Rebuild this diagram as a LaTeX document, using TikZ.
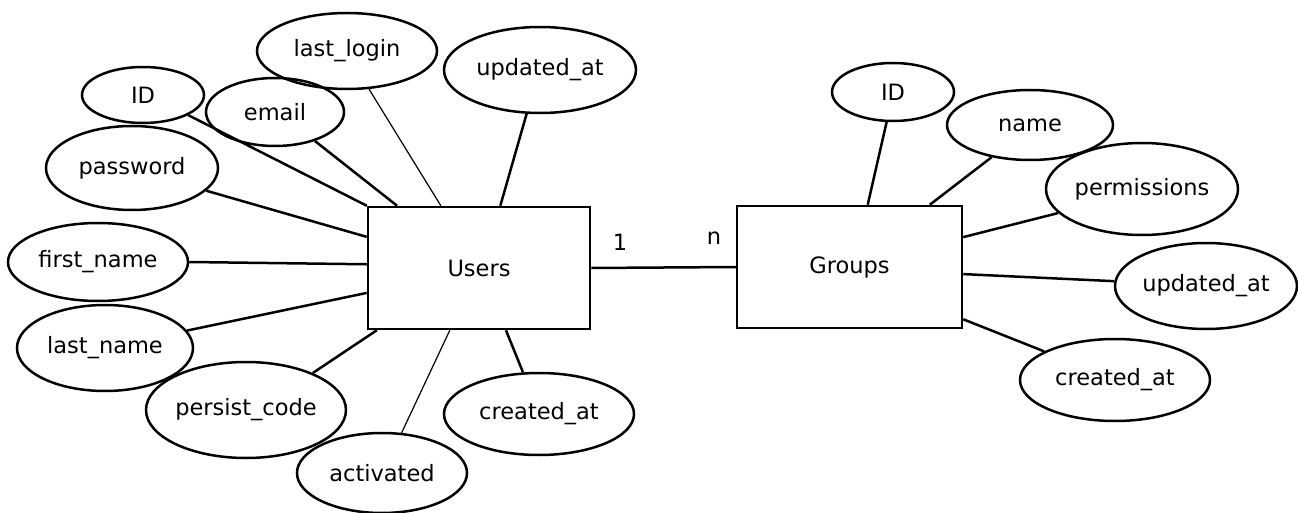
\documentclass[tikz,border=0pt]{standalone}
\usepackage{fontspec}
\setmainfont{DejaVu Sans}
\usetikzlibrary{shapes.geometric,calc}
\begin{document}
\begin{tikzpicture}[x=1pt,y=-1pt,
  attr/.style={draw,ellipse,line width=2.5pt,inner sep=0pt,font=\fontsize{22.5}{27}\selectfont},
  ent/.style={draw,rectangle,line width=2.5pt,inner sep=0pt,font=\fontsize{22.5}{27}\selectfont},
  lnk/.style={line width=2.5pt},
  thin lnk/.style={line width=1.2pt},
  card/.style={font=\fontsize{22.5}{27}\selectfont}]
\useasboundingbox (0,0) rectangle (1298,513);
% entities
\node[ent,minimum width=222pt,minimum height=122pt] (users) at (479,268) {Users};
\node[ent,minimum width=225pt,minimum height=122pt] (groups) at (849.5,267) {Groups};
% Users attributes
\node[attr,minimum width=122pt,minimum height=56pt] (uid) at (143,95) {ID};
\node[attr,minimum width=138pt,minimum height=68pt] (uemail) at (275,112) {email};
\node[attr,minimum width=180pt,minimum height=76pt] (ulogin) at (347,51) {last\_login};
\node[attr,minimum width=192pt,minimum height=86pt] (uupd) at (540,70) {updated\_at};
\node[attr,minimum width=172pt,minimum height=84pt] (upass) at (132,168) {password};
\node[attr,minimum width=180pt,minimum height=78pt] (ufirst) at (98,262) {first\_name};
\node[attr,minimum width=176pt,minimum height=86pt] (ulast) at (105,348) {last\_name};
\node[attr,minimum width=198pt,minimum height=96pt] (upersist) at (246,410) {persist\_code};
\node[attr,minimum width=170pt,minimum height=80pt] (uact) at (382,473) {activated};
\node[attr,minimum width=190pt,minimum height=82pt] (ucre) at (539,414) {created\_at};
% Groups attributes
\node[attr,minimum width=122pt,minimum height=58pt] (gid) at (893,92) {ID};
\node[attr,minimum width=166pt,minimum height=70pt] (gname) at (1030,125) {name};
\node[attr,minimum width=192pt,minimum height=92pt] (gperm) at (1142,189) {permissions};
\node[attr,minimum width=182pt,minimum height=86pt] (gupd) at (1206,286) {updated\_at};
\node[attr,minimum width=190pt,minimum height=82pt] (gcre) at (1115,380) {created\_at};
% Users connectors
\draw[lnk] (uid.-24) -- (users.north west);
\draw[lnk] (uemail.-36) -- ($(users.north west)!0.135!(users.north east)$);
\draw[thin lnk] (ulogin.-60) -- ($(users.north west)!0.33!(users.north east)$);
\draw[lnk] (uupd.-107) -- ($(users.north west)!0.595!(users.north east)$);
\draw[lnk] (upass.-17) -- ($(users.north west)!0.25!(users.south west)$);
\draw[lnk] (ufirst.0) -- ($(users.north west)!0.47!(users.south west)$);
\draw[lnk] (ulast.12) -- ($(users.north west)!0.70!(users.south west)$);
\draw[lnk] (upersist.29) -- ($(users.south west)!0.045!(users.south east)$);
\draw[thin lnk] (uact.64) -- ($(users.south west)!0.37!(users.south east)$);
\draw[lnk] (ucre.111) -- ($(users.south west)!0.62!(users.south east)$);
% Groups connectors
\draw[lnk] (gid.-102) -- ($(groups.north west)!0.58!(groups.north east)$);
\draw[lnk] (gname.-140) -- ($(groups.north west)!0.853!(groups.north east)$);
\draw[lnk] (gperm.-164) -- ($(groups.north east)!0.26!(groups.south east)$);
\draw[lnk] (gupd.177) -- ($(groups.north east)!0.557!(groups.south east)$);
\draw[lnk] (gcre.158) -- ($(groups.north east)!0.92!(groups.south east)$);
% relationship
\draw[lnk] (users.east) -- (groups.west);
\node[card] (c1) at (620,242) {1};
\node[card] (cn) at (714,238) {n};
\end{tikzpicture}
\end{document}
